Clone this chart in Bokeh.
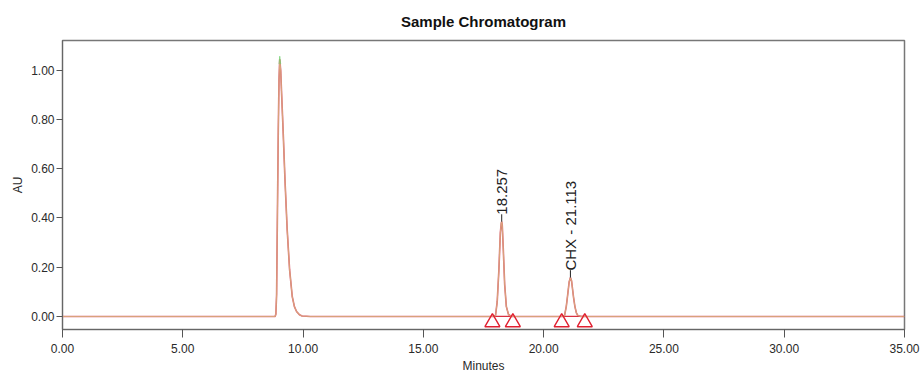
from bokeh.plotting import figure
from bokeh.models import Range1d, NumeralTickFormatter, Title, ColumnDataSource
from bokeh.core.properties import value
from bokeh.embed import file_html
from bokeh.resources import INLINE
import math

# Trace: time (min) and absorbance (AU)
times = [0.0, 8.84, 8.87, 8.90, 8.93, 8.97, 9.00, 9.03, 9.07, 9.11, 9.17, 9.25, 9.34, 9.44,
         9.55, 9.64, 9.73, 9.85, 9.96, 10.3,
         17.95, 18.00, 18.07, 18.14, 18.20, 18.24, 18.257, 18.28, 18.32, 18.38, 18.45, 18.54, 18.65,
         20.82, 20.87, 20.94, 20.99, 21.06, 21.113, 21.16, 21.24, 21.30, 21.36, 21.42, 21.55, 35.0]
au = [0.0, 0.0, 0.01, 0.09, 0.38, 0.757, 0.96, 1.045, 1.0, 0.90, 0.757, 0.55, 0.352, 0.19,
      0.081, 0.04, 0.02, 0.007, 0.002, 0.0,
      0.0, 0.004, 0.06, 0.19, 0.34, 0.38, 0.385, 0.37, 0.28, 0.13, 0.04, 0.008, 0.0,
      0.0, 0.004, 0.04, 0.08, 0.14, 0.158, 0.145, 0.08, 0.04, 0.015, 0.004, 0.0, 0.0]

# Integration marks (peak start / end)
mark_times = [17.87, 18.72, 20.75, 21.71]
peak_times = [18.257, 21.113]
peak_heights = [0.385, 0.158]
peak_labels = ["18.257", "CHX - 21.113"]

x_ticks = [0, 5, 10, 15, 20, 25, 30, 35]
y_ticks = [0.0, 0.2, 0.4, 0.6, 0.8, 1.0]

FONT = "Liberation Sans"

p = figure(width=924, height=375, output_backend="svg", toolbar_location=None,
           x_range=Range1d(0, 35), y_range=Range1d(-0.053, 1.121),
           min_border_left=62, min_border_right=20, min_border_top=40, min_border_bottom=45)

p.title = Title(text="Sample Chromatogram", align="center", text_font=FONT,
                text_font_size="15px", text_font_style="bold", text_color="#111111",
                standoff=21)
p.grid.visible = False
p.outline_line_color = "#777777"
p.outline_line_width = 1.5

for ax in (p.xaxis[0], p.yaxis[0]):
    ax.axis_line_color = "#666666"
    ax.major_tick_line_color = "#555555"
    ax.minor_tick_line_color = "#555555"
    ax.major_label_text_font = FONT
    ax.major_label_text_font_size = "12px"
    ax.major_label_text_color = "#2a2a2a"
    ax.axis_label_text_font = FONT
    ax.axis_label_text_font_size = "12px"
    ax.axis_label_text_font_style = "normal"
    ax.axis_label_text_color = "#2a2a2a"
    ax.formatter = NumeralTickFormatter(format="0.00")
    ax.major_tick_in = 0
    ax.minor_tick_in = 0

p.xaxis.ticker = x_ticks
p.xaxis[0].ticker.num_minor_ticks = 5
p.yaxis.ticker = y_ticks
p.yaxis[0].ticker.num_minor_ticks = 4
p.xaxis.major_tick_out = 8
p.xaxis.minor_tick_out = 5
p.yaxis.major_tick_out = 6
p.yaxis.minor_tick_out = 4
p.xaxis.major_label_standoff = 6
p.yaxis.major_label_standoff = 2
p.xaxis.axis_label = "Minutes"
p.yaxis.axis_label = "AU"
p.yaxis.axis_label_standoff = 3
p.xaxis.axis_label_standoff = 3

# baselines under integrated peaks
p.segment(x0=[mark_times[0], mark_times[2]], y0=[0, 0],
          x1=[mark_times[1], mark_times[3]], y1=[0, 0],
          line_color="#d83040", line_width=1.2)

p.line(times, au, line_color="#d0304e", line_width=1.6, line_alpha=0.75)
p.line(times, au, line_color="#d9a27a", line_width=1.1)

# green apex tip on the first peak
p.line([times[6], times[7], times[8]], [au[7] - 0.02, au[7] + 0.012, au[7] - 0.02],
       line_color="#6cd06c", line_width=1.0, line_alpha=0.7)

# integration triangles
p.scatter(mark_times, [-0.024] * len(mark_times), marker="triangle", size=15,
          fill_color=None, line_color="#e02030", line_width=1.4)

# label leader lines and labels
p.segment(x0=peak_times, y0=peak_heights, x1=peak_times,
          y1=[h + 0.03 for h in peak_heights], line_color="#222222", line_width=1)
src = ColumnDataSource(dict(x=peak_times, y=peak_heights, t=peak_labels))
p.text(x="x", y="y", text="t", source=src, angle=math.pi / 2, y_offset=-7,
       text_align="left", text_baseline="middle", text_font=value(FONT),
       text_font_size="15px", text_color="#222222")

open("out.html", "w").write(file_html(p, INLINE))
